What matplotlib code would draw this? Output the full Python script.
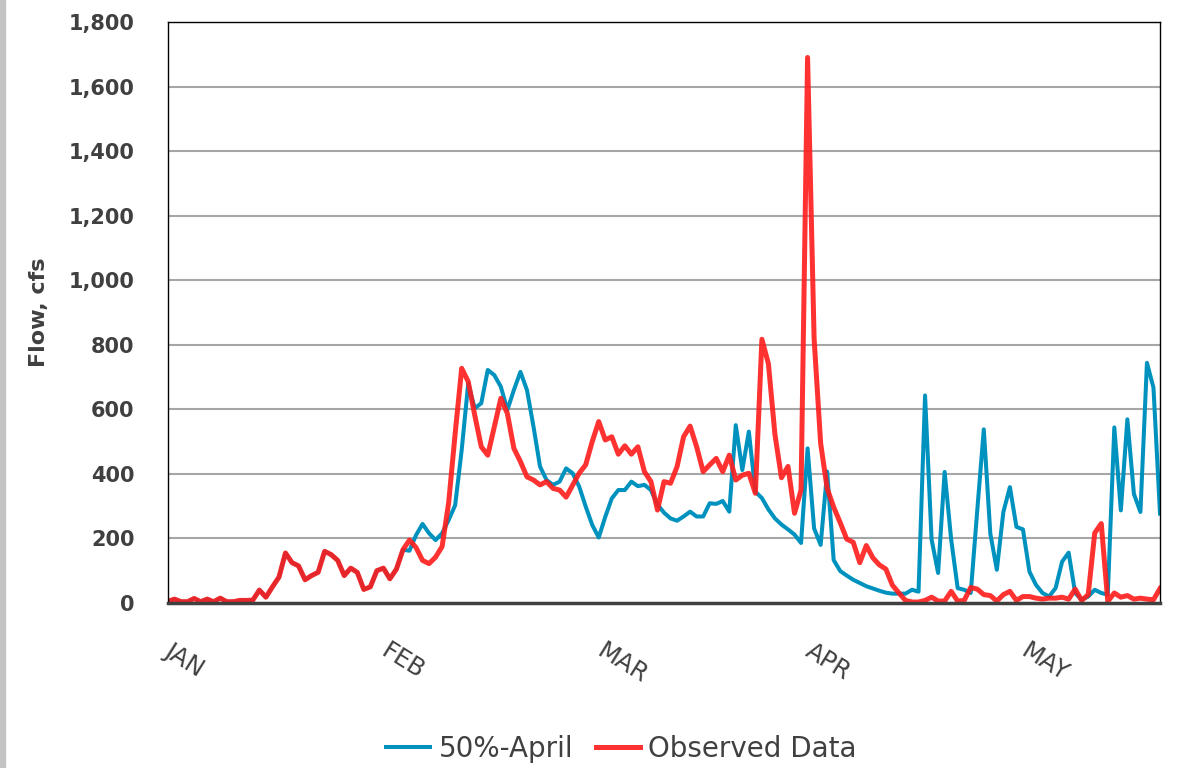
import matplotlib
matplotlib.use("Agg")
import matplotlib.pyplot as plt
from matplotlib.patches import Rectangle
import numpy as np

# daily flow, cfs, starting Jan 1
observed = [5, 12, 4, 4, 14, 4, 12, 4, 15, 4, 4, 8, 8, 9, 40, 18, 50, 80, 155,
            125, 115, 72, 85, 95, 160, 150, 132, 85, 108, 95, 42, 50, 100, 108, 75, 105, 165,
            195, 172, 132, 122, 142, 175, 310, 525, 727, 686, 582, 484, 458, 546, 634, 587,
            479, 438, 391, 381, 366, 376, 355, 350,
            328, 365, 402, 428, 500, 562,
            505, 515, 461, 487, 461, 484, 407, 376, 288, 376, 371, 422, 515, 548, 484, 407,
            428, 448, 407, 458, 381, 396, 402, 340, 817,
            741, 522, 388, 423, 278, 350, 1690,
            820, 495, 355, 297, 249, 198, 188, 125, 178, 140, 118, 105, 55, 31, 8, 3, 3, 8,
            18, 6, 6, 36, 6, 8, 48, 43, 26, 23, 6, 26, 36, 8, 20, 20, 15, 12, 15, 15, 18, 12,
            43, 8, 26, 217, 246, 5, 31, 18, 23, 12, 15, 12, 10, 45]

# 50%-April forecast follows the observed record until early February
forecast = observed[:37] + [
    162, 210, 245, 216, 195, 216, 257, 303, 474, 680, 603, 619, 722, 706, 670, 598,
    660, 716, 660, 547, 423, 381, 366, 376, 417, 402, 361, 299, 242, 203, 267, 324,
    350, 350, 376, 362, 366, 350, 305, 280, 262, 255, 268, 283, 268, 268, 309, 307,
    316, 283, 551, 412, 531, 345, 325, 290, 262, 243, 228, 212, 186, 479, 231, 180,
    407, 133, 99, 85, 72, 62, 52, 45, 38, 32, 29, 29, 29, 41, 35, 643, 197, 93,
    406, 197, 46, 41, 31, 287, 538, 215, 103, 282, 359, 236, 228, 97, 56, 31, 20, 46,
    128, 156, 31, 10, 20, 41, 31, 26, 544, 287, 569, 338, 282, 744, 667, 277]

month_labels = ["JAN", "FEB", "MAR", "APR", "MAY"]
month_pos = [0.8, 34, 67, 99, 132]

days = np.arange(len(observed))
txt = "#404040"

fig = plt.figure(figsize=(11.79, 7.68), dpi=100)
fig.patches.append(Rectangle((0, 0), 5 / 1179, 1, transform=fig.transFigure,
                             color="#c4c4c4", zorder=0))
ax = fig.add_axes([168 / 1179, 1 - 603 / 768, 992 / 1179, 581 / 768])

ax.plot(days, forecast, color="#0092be", lw=2.9, solid_joinstyle="round",
        label="50%-April")
ax.plot(days, observed, color="#ff1c1c", lw=3.6, alpha=0.9, solid_joinstyle="round",
        label="Observed Data")

ax.set_xlim(0, len(observed) - 1)
ax.set_ylim(0, 1800)
ax.set_yticks(range(0, 1801, 200))
ax.set_yticklabels([f"{v:,}" for v in range(0, 1801, 200)], fontweight="bold",
                   fontsize=15, color=txt)
ax.grid(axis="y", color="#a6a6a6", lw=1.5)
ax.set_axisbelow(True)

ax.set_xticks(month_pos)
ax.set_xticklabels(month_labels, rotation=-32, ha="left", va="top",
                   rotation_mode="anchor", fontsize=17.5, color=txt)
ax.tick_params(axis="both", length=0)
ax.tick_params(axis="y", pad=24)
ax.tick_params(axis="x", pad=26)

for s in ["top", "right", "left"]:
    ax.spines[s].set_color("black")
    ax.spines[s].set_linewidth(1)
ax.spines["bottom"].set_color("#404040")
ax.spines["bottom"].set_linewidth(2.5)

ax.set_ylabel("Flow, cfs", fontsize=16, fontweight="bold", color=txt, labelpad=14)

fig.legend(loc="center", bbox_to_anchor=(0.527, 0.025), ncol=2, frameon=False,
           fontsize=20, handlelength=1.6, handletextpad=0.3, columnspacing=0.8,
           labelcolor=txt)

fig.savefig("out.png", dpi=100)
